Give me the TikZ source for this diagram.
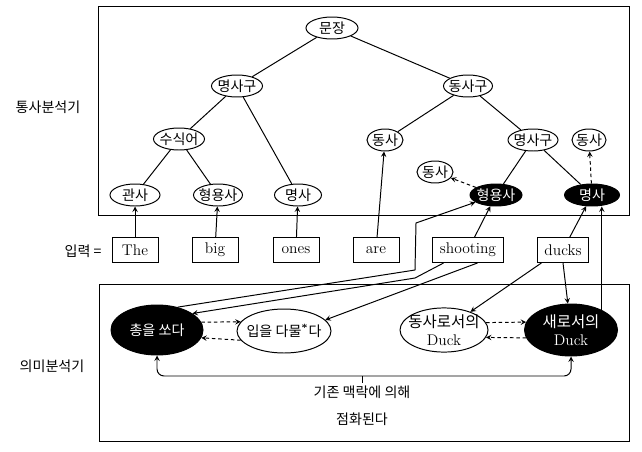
\documentclass[tikz,border=0pt]{standalone}
\usepackage{fontspec}
\newfontfamily\kr{Noto Sans CJK KR}
\usetikzlibrary{shapes.geometric}
\tikzset{
  cat/.style={ellipse, draw, inner xsep=-4pt, inner ysep=0pt, minimum height=5.5mm, font=\kr},
  catblack/.style={cat, fill=black, text=white},
  word/.style={draw, inner xsep=1.75mm, inner ysep=0pt, minimum width=11.5mm, minimum height=6.25mm},
  sense/.style={ellipse, draw, inner xsep=-8pt, inner ysep=0pt, minimum width=23mm, minimum height=11mm, align=center},
  senseblack/.style={sense, fill=black, text=white},
  alt/.style={dash pattern=on 2.5pt off 2pt, -stealth},
}
\begin{document}
\begin{tikzpicture}[x=0.25mm, y=-0.25mm, line width=0.7pt, font=\fontsize{11}{13}\selectfont]
    \useasboundingbox (0,0) rectangle (642,451);
    % frames of the two analysers
    \draw (98,6) rectangle (629,215);
    \draw (99,284) rectangle (629,441);
    \node[font=\kr] (synLabel) at (48,107) {통사분석기};
    \node[font=\kr] (semLabel) at (52,366) {의미분석기};
    \node[font=\kr] (inLabel) at (83,251) {입력 =};
    % parse tree
    \node[cat, minimum width=13mm] (mun) at (332,28) {문장};
    \node[cat, minimum width=12.75mm] (npL) at (237,86) {명사구};
    \node[cat, minimum width=12.25mm] (vp) at (468,86) {동사구};
    \node[cat, minimum width=12.75mm] (mod) at (179,139) {수식어};
    \node[cat, minimum width=9mm] (vL) at (385,140) {동사};
    \node[cat, minimum width=12.5mm] (npR) at (533,140) {명사구};
    \node[cat, minimum width=8.5mm] (vR) at (589,140) {동사};
    \node[cat, minimum width=9mm] (vS) at (435,172) {동사};
    \node[cat, minimum width=12.5mm] (art) at (135,195) {관사};
    \node[cat, minimum width=12.25mm] (adjL) at (218,195) {형용사};
    \node[cat, minimum width=11.75mm] (nounW) at (298,195) {명사};
    \node[catblack, minimum width=13mm] (adjB) at (496,195) {형용사};
    \node[catblack, minimum width=13.75mm] (nounB) at (592,195) {명사};
    \draw (mun) -- (npL);
    \draw (mun) -- (vp);
    \draw (npL) -- (mod);
    \draw (npL) -- (nounW);
    \draw (mod) -- (art);
    \draw (mod) -- (adjL);
    \draw (vp) -- (vL);
    \draw (vp) -- (npR);
    \draw (npR) -- (adjB);
    \draw (npR) -- (nounB);
    \draw[alt] (adjB) -- (vS);
    \draw[alt] (nounB) -- (vR);
    % input words
    \node[word] (wThe) at (135,250) {The};
    \node[word] (wBig) at (215,250) {big};
    \node[word] (wOnes) at (296,250) {ones};
    \node[word] (wAre) at (376,250) {are};
    \node[word] (wShooting) at (468,250) {shooting};
    \node[word] (wDucks) at (563,250) {ducks};
    \draw[-stealth] (wThe) -- (art);
    \draw[-stealth] (wBig) -- (adjL);
    \draw[-stealth] (wOnes) -- (nounW);
    \draw[-stealth] (wAre) -- (vL);
    \draw[-stealth] (wShooting) -- (adjB);
    \draw[-stealth] (wDucks) -- (nounB);
    % word senses
    \node[senseblack, minimum height=12.5mm, font=\kr] (shoot) at (157,330) {총을 쏘다};
    \node[sense, minimum width=23.5mm, font=\kr] (shut) at (284,331) {입을 다물\textsuperscript{\rmfamily\bfseries *}다};
    \node[sense, minimum width=22mm] (duckV) at (444,330) {{\kr 동사로서의}\\Duck};
    \node[senseblack, minimum width=23.25mm, minimum height=13mm] (duckN) at (571,330) {{\kr 새로서의}\\Duck};
    \draw[alt] (shoot.10) -- (shut.168);
    \draw[alt] (shut.192) -- (shoot.-10);
    \draw[alt] (duckV.10) -- (duckN.170);
    \draw[alt] (duckN.190) -- (duckV.-10);
    % links between the analysers
    \coordinate (bendA1) at (415,270);
    \coordinate (bendA2) at (416,223);
    \coordinate (bendB) at (415,278);
    \draw[-stealth] (shoot.48) -- (bendA1) -- (bendA2) -- (adjB);
    \draw[-stealth] (wShooting.208) -- (bendB) -- (shoot.25);
    \draw[-stealth] (wShooting.-54) -- (shut.15);
    \draw[-stealth] (wDucks.211) -- (duckV);
    \draw[-stealth] (wDucks.south) -- (duckN);
    \draw[-stealth] (duckN.33) -- (duckN.33 |- nounB.south);
    % context brace
    \coordinate (brace) at (362,376);
    \draw[stealth-stealth, rounded corners=5] (shoot.south) |- (brace) -| (duckN.south);
    \draw (brace) -- ++(0,7);
    \node[font=\kr, align=center] (note) at (362,406) {기존 맥락에 의해\\[7pt]점화된다};
\end{tikzpicture}
\end{document}
